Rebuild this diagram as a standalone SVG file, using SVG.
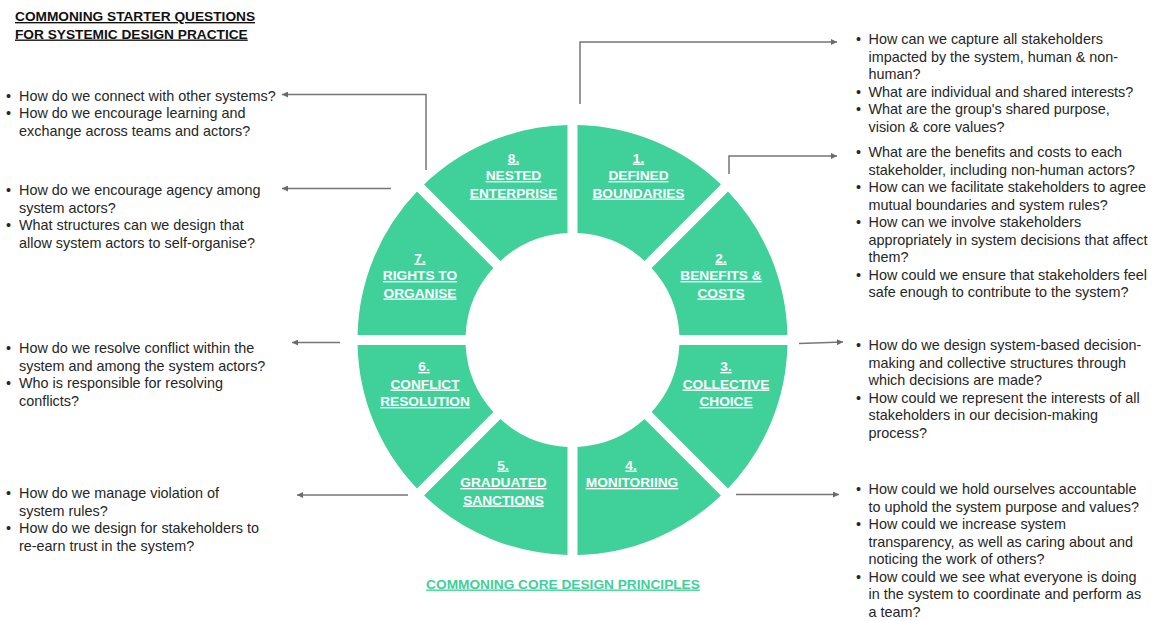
<svg xmlns="http://www.w3.org/2000/svg" xmlns:xlink="http://www.w3.org/1999/xlink" width="1152" height="621" viewBox="0 0 1152 621">
<style>
.q{font-family:"Liberation Sans",Arial,sans-serif;font-size:14.4px;fill:#262626}
.b{font-family:"Liberation Sans",Arial,sans-serif;font-size:14.4px;fill:#262626}
.seg{fill:#40D09A}
.lbl{font-family:"Liberation Sans",Arial,sans-serif;font-weight:bold;font-size:13.7px;fill:#ffffff;text-anchor:middle;text-decoration:underline}
.title{font-family:"Liberation Sans",Arial,sans-serif;font-weight:bold;font-size:13.7px;fill:#111111;text-decoration:underline}
.core{font-family:"Liberation Sans",Arial,sans-serif;font-weight:bold;font-size:13.7px;fill:#40D09A;text-decoration:underline;text-anchor:middle}
.con{fill:none;stroke:#767676;stroke-width:1.5;marker-end:url(#ah)}
</style>
<defs>
<marker id="ah" viewBox="0 0 10 10" refX="10" refY="5" markerWidth="8" markerHeight="6" markerUnits="userSpaceOnUse" orient="auto">
<path d="M0,0 L10,5 L0,10 z" fill="#6a6a6a"/>
</marker>
<path id="sector" d="M5,-214.94 A215,215 0 0 1 148.45,-155.53 L72.04,-79.12 A107,107 0 0 0 5,-106.88 Z"/>
</defs>
<rect width="1152" height="621" fill="#ffffff"/>

<g id="title">
<text class="title" x="15" y="21">COMMONING STARTER QUESTIONS</text>
<text class="title" x="15" y="38.5">FOR SYSTEMIC DESIGN PRACTICE</text>
</g>

<g id="p1">
<use xlink:href="#sector" class="seg" transform="translate(572.5,340) rotate(0)"/>
<text class="lbl" x="638.5" y="162.5">1.<tspan x="638.5" dy="17.5">DEFINED</tspan><tspan x="638.5" dy="17.5">BOUNDARIES</tspan></text>
</g>
<g id="p2">
<use xlink:href="#sector" class="seg" transform="translate(572.5,340) rotate(45)"/>
<text class="lbl" x="721" y="262.5">2.<tspan x="721" dy="17.5">BENEFITS &amp;</tspan><tspan x="721" dy="17.5">COSTS</tspan></text>
</g>
<g id="p3">
<use xlink:href="#sector" class="seg" transform="translate(572.5,340) rotate(90)"/>
<text class="lbl" x="726" y="371">3.<tspan x="726" dy="17.5">COLLECTIVE</tspan><tspan x="726" dy="17.5">CHOICE</tspan></text>
</g>
<g id="p4">
<use xlink:href="#sector" class="seg" transform="translate(572.5,340) rotate(135)"/>
<text class="lbl" x="631" y="469.5">4.<tspan x="632" dy="17.5">MONITORIING</tspan></text>
</g>
<g id="p5">
<use xlink:href="#sector" class="seg" transform="translate(572.5,340) rotate(180)"/>
<text class="lbl" x="503" y="469.5">5.<tspan x="503.5" dy="17.5">GRADUATED</tspan><tspan x="503.5" dy="17.5">SANCTIONS</tspan></text>
</g>
<g id="p6">
<use xlink:href="#sector" class="seg" transform="translate(572.5,340) rotate(225)"/>
<text class="lbl" x="424" y="371">6.<tspan x="425" dy="17.5">CONFLICT</tspan><tspan x="425" dy="17.5">RESOLUTION</tspan></text>
</g>
<g id="p7">
<use xlink:href="#sector" class="seg" transform="translate(572.5,340) rotate(270)"/>
<text class="lbl" x="420" y="262.5">7.<tspan x="420" dy="17.5">RIGHTS TO</tspan><tspan x="420" dy="17.5">ORGANISE</tspan></text>
</g>
<g id="p8">
<use xlink:href="#sector" class="seg" transform="translate(572.5,340) rotate(315)"/>
<text class="lbl" x="513.5" y="162.5">8.<tspan x="513.5" dy="17.5">NESTED</tspan><tspan x="513.5" dy="17.5">ENTERPRISE</tspan></text>
</g>

<g id="connectors">
<path class="con" d="M580,104 V42 H837"/>
<path class="con" d="M729,174 V156 H837"/>
<path class="con" d="M799,343.5 L843,342"/>
<path class="con" d="M736,494.5 H839"/>
<path class="con" d="M408,495 H297"/>
<path class="con" d="M340,342.5 H292"/>
<path class="con" d="M391,188.5 H282"/>
<path class="con" d="M426,170 V94.5 H282"/>
</g>

<g id="q8">
<text class="b" x="6" y="100.5">•</text>
<text class="b" x="6" y="118">•</text>
<text class="q" x="19" y="100.5">How do we connect with other systems?<tspan x="19" dy="17.5">How do we encourage learning and</tspan><tspan x="19" dy="17.5">exchange across teams and actors?</tspan></text>
</g>
<g id="q7">
<text class="b" x="6" y="195">•</text>
<text class="b" x="6" y="230">•</text>
<text class="q" x="19" y="195">How do we encourage agency among<tspan x="19" dy="17.5">system actors?</tspan><tspan x="19" dy="17.5">What structures can we design that</tspan><tspan x="19" dy="17.5">allow system actors to self-organise?</tspan></text>
</g>
<g id="q6">
<text class="b" x="6" y="353">•</text>
<text class="b" x="6" y="388">•</text>
<text class="q" x="19" y="353">How do we resolve conflict within the<tspan x="19" dy="17.5">system and among the system actors?</tspan><tspan x="19" dy="17.5">Who is responsible for resolving</tspan><tspan x="19" dy="17.5">conflicts?</tspan></text>
</g>
<g id="q5">
<text class="b" x="6" y="498">•</text>
<text class="b" x="6" y="533">•</text>
<text class="q" x="19" y="498">How do we manage violation of<tspan x="19" dy="17.5">system rules?</tspan><tspan x="19" dy="17.5">How do we design for stakeholders to</tspan><tspan x="19" dy="17.5">re-earn trust in the system?</tspan></text>
</g>

<g id="q1">
<text class="b" x="856" y="44">•</text>
<text class="b" x="856" y="96.5">•</text>
<text class="b" x="856" y="114">•</text>
<text class="q" x="868.5" y="44">How can we capture all stakeholders<tspan x="868.5" dy="17.5">impacted by the system, human &amp; non-</tspan><tspan x="868.5" dy="17.5">human?</tspan><tspan x="868.5" dy="17.5">What are individual and shared interests?</tspan><tspan x="868.5" dy="17.5">What are the group's shared purpose,</tspan><tspan x="868.5" dy="17.5">vision &amp; core values?</tspan></text>
</g>
<g id="q2">
<text class="b" x="856" y="157">•</text>
<text class="b" x="856" y="192">•</text>
<text class="b" x="856" y="227">•</text>
<text class="b" x="856" y="279.5">•</text>
<text class="q" x="868.5" y="157">What are the benefits and costs to each<tspan x="868.5" dy="17.5">stakeholder, including non-human actors?</tspan><tspan x="868.5" dy="17.5">How can we facilitate stakeholders to agree</tspan><tspan x="868.5" dy="17.5">mutual boundaries and system rules?</tspan><tspan x="868.5" dy="17.5">How can we involve stakeholders</tspan><tspan x="868.5" dy="17.5">appropriately in system decisions that affect</tspan><tspan x="868.5" dy="17.5">them?</tspan><tspan x="868.5" dy="17.5">How could we ensure that stakeholders feel</tspan><tspan x="868.5" dy="17.5">safe enough to contribute to the system?</tspan></text>
</g>
<g id="q3">
<text class="b" x="856" y="350">•</text>
<text class="b" x="856" y="402.5">•</text>
<text class="q" x="868.5" y="350">How do we design system-based decision-<tspan x="868.5" dy="17.5">making and collective structures through</tspan><tspan x="868.5" dy="17.5">which decisions are made?</tspan><tspan x="868.5" dy="17.5">How could we represent the interests of all</tspan><tspan x="868.5" dy="17.5">stakeholders in our decision-making</tspan><tspan x="868.5" dy="17.5">process?</tspan></text>
</g>
<g id="q4">
<text class="b" x="856" y="494">•</text>
<text class="b" x="856" y="529">•</text>
<text class="b" x="856" y="581.5">•</text>
<text class="q" x="868.5" y="494">How could we hold ourselves accountable<tspan x="868.5" dy="17.5">to uphold the system purpose and values?</tspan><tspan x="868.5" dy="17.5">How could we increase system</tspan><tspan x="868.5" dy="17.5">transparency, as well as caring about and</tspan><tspan x="868.5" dy="17.5">noticing the work of others?</tspan><tspan x="868.5" dy="17.5">How could we see what everyone is doing</tspan><tspan x="868.5" dy="17.5">in the system to coordinate and perform as</tspan><tspan x="868.5" dy="17.5">a team?</tspan></text>
</g>

<g id="caption">
<text class="core" x="563" y="588.5">COMMONING CORE DESIGN PRINCIPLES</text>
</g>
</svg>
